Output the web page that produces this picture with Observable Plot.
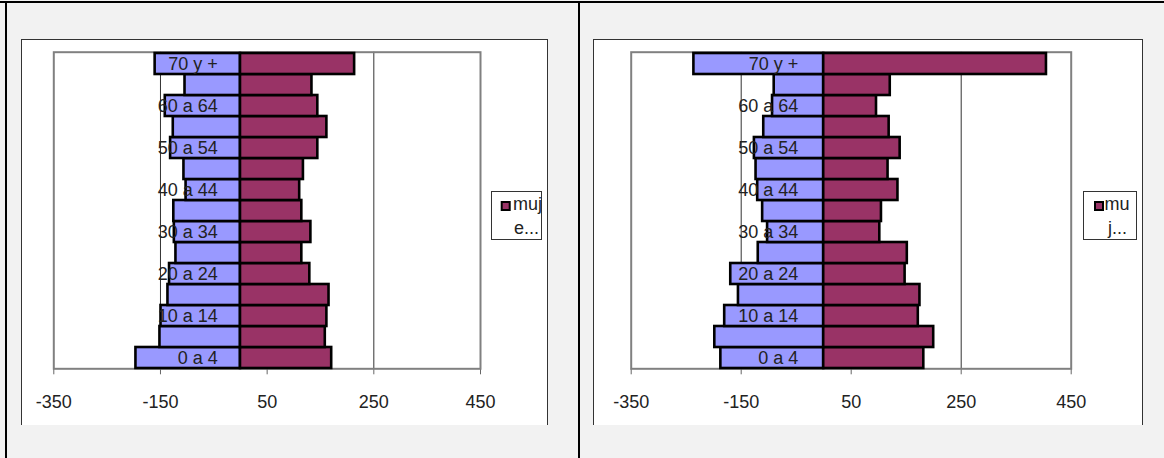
<!DOCTYPE html>
<html>
<head>
<meta charset="utf-8">
<script src="https://cdn.jsdelivr.net/npm/d3@7"></script>
<script src="https://cdn.jsdelivr.net/npm/@observablehq/plot@0.6"></script>
<style>
  html, body { margin: 0; padding: 0; }
  body { width: 1164px; height: 458px; position: relative; overflow: hidden; background: #f2f2f2;
         font-family: "Liberation Sans", Arial, sans-serif; }
  .bline { position: absolute; background: #000; }
  .frame { position: absolute; background: #fff; border: 1px solid #333; border-bottom: none; box-sizing: border-box; }
  .chart { position: absolute; }
  .chart svg text { font-family: "Liberation Sans", Arial, sans-serif; }
  .chart svg [aria-label^="x-axis"] line, .chart svg [aria-label="x-axis tick"] path { stroke: #666; }
  .legend { position: absolute; }
</style>
</head>
<body>
<div class="bline" style="left:0;top:1px;width:1164px;height:2px"></div>
<div class="bline" style="left:5px;top:1px;width:2px;height:457px"></div>
<div class="bline" style="left:578px;top:1px;width:2px;height:457px"></div>
<div class="frame" style="left:21px;top:39px;width:527px;height:386px"></div>
<div class="frame" style="left:593px;top:39px;width:550px;height:386px"></div>
<div class="chart" id="left" style="left:21px;top:39px"></div>
<div class="chart" id="right" style="left:593px;top:39px"></div>
<div class="legend" id="legL" style="left:491px;top:191px"></div>
<div class="legend" id="legR" style="left:1083px;top:191px"></div>
<script>
// Age groups, bottom to top
const ageGroups = ["0 a 4","5 a 9","10 a 14","15 a 19","20 a 24","25 a 29","30 a 34","35 a 39",
                   "40 a 44","45 a 49","50 a 54","55 a 59","60 a 64","65 a 69","70 y +"];
const shownLabels = ["0 a 4","10 a 14","20 a 24","30 a 34","40 a 44","50 a 54","60 a 64","70 y +"];

// Left pyramid
const leftHombres = [196,151,149,136,133,121,124,125,102,106,131,126,141,104,160];
const leftMujeres = [171,159,162,166,130,115,132,115,111,118,145,162,145,134,214];
// Right pyramid
const rightHombres = [187,198,180,155,169,119,102,111,120,123,126,109,93,90,236];
const rightMujeres = [182,200,172,175,148,152,102,105,135,117,139,119,96,121,405];

const xTicks = [-350,-150,50,250,450];
const gridValues = [-150,50,250];
const seriesNames = ["hombres","mujeres"];
const seriesColors = ["#9999FF","#993366"];
const legendLeftLines = ["muj","e..."];
const legendRightLines = ["mu","j..."];

function pyramid(men, women, o) {
  const rows = ageGroups.flatMap((age, i) => [
    {age, sex: "hombres", v: -men[i]},
    {age, sex: "mujeres", v: women[i]}
  ]);
  const labels = shownLabels.map(age => ({age, x: 0}));
  return Plot.plot({
    width: o.width, height: 386,
    marginLeft: o.ml, marginRight: o.mr, marginTop: 12.7, marginBottom: 56.7,
    style: {background: "transparent", fontFamily: "Liberation Sans, Arial, sans-serif",
            fontSize: "18px", color: "#222", overflow: "visible"},
    x: {domain: [-350, 450], ticks: xTicks, tickFormat: d => String(d), tickSize: 6, tickPadding: 20, label: null},
    y: {domain: ageGroups.slice().reverse(), padding: 0, axis: null},
    color: {domain: seriesNames, range: seriesColors},
    marks: [
      Plot.ruleX(gridValues, {stroke: "#333", strokeWidth: 1}),
      Plot.frame({stroke: "#808080", strokeWidth: 2}),
      Plot.barX(rows, {y: "age", x1: 0, x2: "v", fill: "sex", stroke: "#000", strokeWidth: 2.6}),
      Plot.text(labels, {x: "x", y: "age", text: "age", textAnchor: "end", dx: o.dx, dy: 0.5,
                         fill: "#222", fontSize: 18})
    ]
  });
}

document.getElementById("left").append(pyramid(leftHombres, leftMujeres, {width: 526, ml: 32.3, mr: 67, dx: -22.7}));
document.getElementById("right").append(pyramid(rightHombres, rightMujeres, {width: 549, ml: 37.7, mr: 71.3, dx: -25.5}));

function legend(el, w, lines, sw, tx1, tx2) {
  const svg = d3.select(el).append("svg").attr("width", w).attr("height", 49).style("display", "block");
  svg.append("rect").attr("x", 0.5).attr("y", 0.5).attr("width", w - 1).attr("height", 48)
     .attr("fill", "#fff").attr("stroke", "#333");
  svg.append("rect").attr("x", sw + 1).attr("y", 11).attr("width", 8).attr("height", 8)
     .attr("fill", seriesColors[1]).attr("stroke", "#000").attr("stroke-width", 2);
  svg.append("text").attr("x", tx1).attr("y", 19).text(lines[0])
     .attr("font-size", 18).attr("fill", "#222").attr("font-family", "Liberation Sans, Arial, sans-serif");
  svg.append("text").attr("x", tx2).attr("y", 43).text(lines[1])
     .attr("font-size", 18).attr("fill", "#222").attr("font-family", "Liberation Sans, Arial, sans-serif");
}
legend(document.getElementById("legL"), 51, legendLeftLines, 9.7, 22, 23);
legend(document.getElementById("legR"), 54, legendRightLines, 11, 21.5, 25);
</script>
</body>
</html>
